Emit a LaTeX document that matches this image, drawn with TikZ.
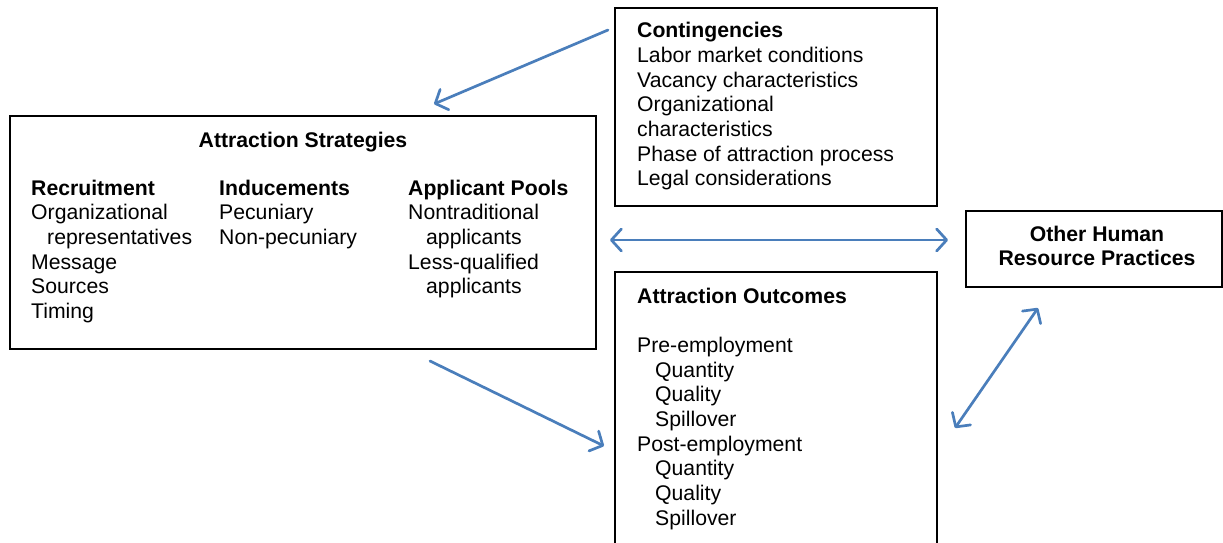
\documentclass[tikz,border=0pt]{standalone}
\usepackage{fontspec}
\setmainfont{Liberation Sans}
\usetikzlibrary{arrows.meta}
\definecolor{arrowblue}{HTML}{4A7EBB}
\begin{document}
\begin{tikzpicture}[x=1pt,y=-1pt,
  box/.style={draw=black, line width=1.4pt, inner sep=0pt, rectangle},
  txt/.style={anchor=base west, inner sep=0pt, font=\fontsize{21.2}{24.7}\selectfont},
  hd/.style={txt, font=\fontsize{21.2}{24.7}\selectfont\bfseries},
  barb/.tip={Straight Barb[length=10pt,width=22pt,line cap=round,line join=round]},
  link/.style={draw=arrowblue, line width=2.7pt, line cap=round, line join=round, -barb},
  both/.style={link, barb-barb}]
\useasboundingbox (0,0) rectangle (1223,543);

% boxes
\node[box, minimum width=586pt, minimum height=233pt] (strat) at (303,232.5) {};
\node[box, minimum width=322pt, minimum height=198pt] (cont) at (776,107) {};
\node[box, minimum width=256pt, minimum height=76pt] (hr) at (1094,249) {};
\node[box, minimum width=322pt, minimum height=288pt] (out) at (776,416) {};

% contingencies
\node[hd] (cont-title) at (637,37.6) {Contingencies};
\foreach \t [count=\i from 1] in {Labor market conditions, Vacancy characteristics,
  Organizational, characteristics, Phase of attraction process, Legal considerations}
  \node[txt] (cont-\i) at (637,{37.6+24.7*\i}) {\t};

% attraction strategies
\node[hd, anchor=base] (strat-title) at (303,147) {Attraction Strategies};
\node[hd] (rec) at (31,195) {Recruitment};
\node[txt] (rec-1) at (31,219.7) {Organizational};
\node[txt] (rec-2) at (47,244.4) {representatives};
\node[txt] (rec-3) at (31,269.1) {Message};
\node[txt] (rec-4) at (31,293.8) {Sources};
\node[txt] (rec-5) at (31,318.5) {Timing};
\node[hd] (ind) at (219,195) {Inducements};
\node[txt] (ind-1) at (219,219.7) {Pecuniary};
\node[txt] (ind-2) at (219,244.4) {Non-pecuniary};
\node[hd] (pool) at (408,195) {Applicant Pools};
\node[txt] (pool-1) at (408,219.7) {Nontraditional};
\node[txt] (pool-2) at (426,244.4) {applicants};
\node[txt] (pool-3) at (408,269.1) {Less-qualified};
\node[txt] (pool-4) at (426,293.8) {applicants};

% other human resource practices
\node[hd, anchor=base] (hr-1) at (1097,241) {Other Human};
\node[hd, anchor=base] (hr-2) at (1097,265.7) {Resource Practices};

% attraction outcomes
\node[hd] (out-title) at (637,303) {Attraction Outcomes};
\node[txt] (out-pre) at (637,352.4) {Pre-employment};
\node[txt] (out-1) at (655,377.1) {Quantity};
\node[txt] (out-2) at (655,401.8) {Quality};
\node[txt] (out-3) at (655,426.5) {Spillover};
\node[txt] (out-post) at (637,451.2) {Post-employment};
\node[txt] (out-4) at (655,475.9) {Quantity};
\node[txt] (out-5) at (655,500.6) {Quality};
\node[txt] (out-6) at (655,525.3) {Spillover};

% connector end points
\coordinate (a1s) at (608,30);
\coordinate (a1e) at (434,104);
\coordinate (a2s) at (610,240);
\coordinate (a2e) at (948,240);
\coordinate (a3s) at (430,361);
\coordinate (a3e) at (604,446);
\coordinate (a4s) at (955,428);
\coordinate (a4e) at (1038,308);

\draw[link] (a1s) -- (a1e);
\draw[both] (a2s) -- (a2e);
\draw[link] (a3s) -- (a3e);
\draw[both] (a4s) -- (a4e);
\end{tikzpicture}
\end{document}
